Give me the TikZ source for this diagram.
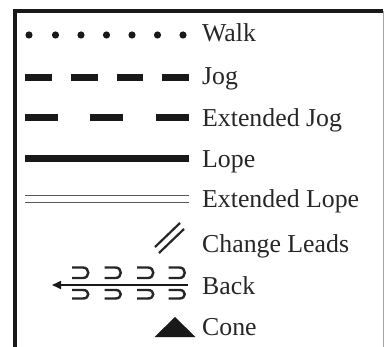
\documentclass[tikz,border=0pt]{standalone}
\usepackage{fontspec}
\setmainfont{Liberation Serif}
\usetikzlibrary{arrows.meta}
\begin{document}
\begin{tikzpicture}[x=1pt,y=-1pt,
  lbl/.style={anchor=base west, inner sep=0pt, text=black!85,
              font=\fontsize{25.8}{30}\selectfont},
  frameline/.style={line width=4pt, black!90},
  hook/.style={line width=2.4pt, black!85},
  diag/.style={line width=2.2pt, black!85}]
\useasboundingbox (0,0) rectangle (385,347);
% frame
\draw[frameline] (15,347) -- (15,11) -- (383,11);
\draw[line width=1pt, black!35] (383,11) -- (383,347);
% Walk
\foreach \x in {29,55.5,81,106.5,132,157.5,183}
  \fill[black!90] (\x,35) circle (3.6pt);
\node[lbl] (walk) at (202,42) {Walk};
% Jog
\foreach \x in {25,71,116.5,162}
  \fill[black!90] (\x,74.5) rectangle ++(26.5,7);
\node[lbl] (jog) at (202,85) {Jog};
% Extended Jog
\foreach \x in {25,90,155.5}
  \fill[black!90] (\x,114.5) rectangle ++(33,7);
\node[lbl] (extjog) at (202,127) {Extended Jog};
% Lope
\fill[black!90] (25,155) rectangle (188.5,162);
\node[lbl] (lope) at (202,168) {Lope};
% Extended Lope
\draw[line width=1.6pt, black!65] (25,195.5) -- (189,195.5);
\draw[line width=1.6pt, black!65] (25,202.5) -- (189,202.5);
\node[lbl] (extlope) at (202,208) {Extended Lope};
% Change Leads
\draw[diag] (155,247) -- (180,223);
\draw[diag] (159,253) -- (184,229);
\node[lbl] (change) at (202,252) {Change Leads};
% Back
\coordinate (backstart) at (188,285);
\coordinate (backend) at (52,285);
\draw[line width=1.6pt, black!90, -{Triangle[length=9pt,width=8pt]}] (backstart) -- (backend);
\foreach \x in {72,104.5,137,168.5}{
  \draw[hook] (\x,267.5) -- (\x+11,267.5) .. controls (\x+18,267.5) and (\x+18,278) .. (\x+11,278) -- (\x,278);
  \draw[hook] (\x,290) -- (\x+11,290) .. controls (\x+18,290) and (\x+18,298.5) .. (\x+11,298.5) -- (\x,298.5);
}
\node[lbl] (back) at (202,294) {Back};
% Cone
\fill[black!90] (154.5,337) -- (175,317) -- (195.5,337) -- cycle;
\node[lbl] (cone) at (202,335) {Cone};
\end{tikzpicture}
\end{document}
